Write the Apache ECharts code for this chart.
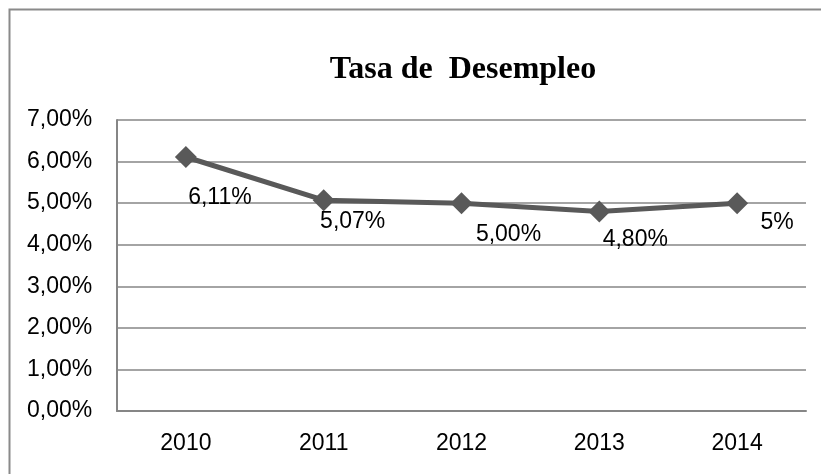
<!DOCTYPE html>
<html><head><meta charset="utf-8">
<script src="https://cdn.jsdelivr.net/npm/echarts@6/dist/echarts.min.js"></script>
<style>html,body{margin:0;padding:0;background:#fff}#c{width:821px;height:474px}</style>
</head><body><div id="c"></div>
<script>
var categories = ['2010', '2011', '2012', '2013', '2014'];
var values = [6.11, 5.07, 5.00, 4.80, 5.00];
var dataLabels = ['6,11%', '5,07%', '5,00%', '4,80%', '5%'];
var titleText = 'Tasa de  Desempleo';

var labelOffsets = [[34, 13], [29, -6], [47, 4], [36, 1], [40, -8]];
var chart = echarts.init(document.getElementById('c'), null, {renderer: 'canvas'});
var font = '"Liberation Sans Narrow", "Liberation Sans", sans-serif';
chart.setOption({
  animation: false,
  graphic: [{
    type: 'rect', left: 7, top: 7,
    shape: {width: 830, height: 480},
    style: {fill: 'none', stroke: '#8a8a8a', lineWidth: 2}
  }],
  title: {
    text: titleText, left: 458, top: 49, textAlign: 'center',
    textStyle: {fontFamily: '"Liberation Serif", "Times New Roman", serif', fontWeight: 'bold', fontSize: 32, color: '#000'}
  },
  grid: {left: 117, right: 15, top: 120, bottom: 63, containLabel: false},
  xAxis: {
    type: 'category', data: categories, boundaryGap: true,
    axisLine: {lineStyle: {color: '#868686', width: 2}},
    axisTick: {show: false},
    axisLabel: {fontFamily: font, fontSize: 23, color: '#000', margin: 21}
  },
  yAxis: {
    type: 'value', min: 0, max: 7, interval: 1,
    axisLine: {show: true, lineStyle: {color: '#868686', width: 2}},
    axisTick: {show: false},
    splitLine: {lineStyle: {color: '#868686', width: 1.5}},
    axisLabel: {
      fontFamily: font, fontSize: 23, color: '#000', margin: 90, align: 'left',
      formatter: function (v) { return v.toFixed(2).replace('.', ',') + '%'; }
    }
  },
  series: [{
    type: 'line',
    data: values.map(function (v, i) {
      return {value: v, label: {offset: labelOffsets[i]}};
    }),
    symbol: 'diamond', symbolSize: 22,
    lineStyle: {color: '#595959', width: 5},
    itemStyle: {color: '#595959'},
    label: {
      show: true, position: 'bottom', fontFamily: font, fontSize: 23, color: '#000',
      formatter: function (p) { return dataLabels[p.dataIndex]; }
    }
  }]
});
</script></body></html>
